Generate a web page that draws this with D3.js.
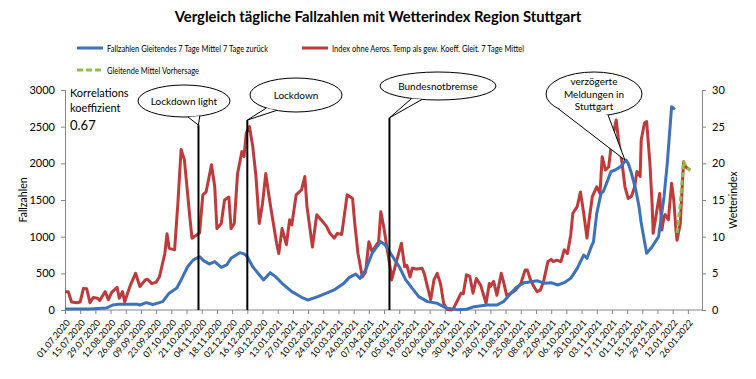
<!DOCTYPE html>
<html>
<head>
<meta charset="utf-8">
<script src="https://cdn.jsdelivr.net/npm/d3@7"></script>
<style>
  body { margin: 0; background: #fff; }
  svg text { font-family: Lato, "Open Sans", sans-serif; fill: #000; }
</style>
</head>
<body>
<div id="chart"></div>
<script>
// ### data ###
var tickLabels = ["01.07.2020","15.07.2020","29.07.2020","12.08.2020","26.08.2020","09.09.2020","23.09.2020","07.10.2020","21.10.2020","04.11.2020","18.11.2020","02.12.2020","16.12.2020","30.12.2020",
  "13.01.2021","27.01.2021","10.02.2021","24.02.2021","10.03.2021","24.03.2021","07.04.2021","21.04.2021","05.05.2021","19.05.2021","02.06.2021","16.06.2021","30.06.2021","14.07.2021","28.07.2021","11.08.2021","25.08.2021","08.09.2021","22.09.2021","06.10.2021","20.10.2021","03.11.2021","17.11.2021","01.12.2021","15.12.2021","29.12.2021",
  "12.01.2022","26.01.2022"];

var caseDates = ["2020-07-01","2020-07-24","2020-08-08","2020-08-14","2020-08-20","2020-09-05","2020-09-08","2020-09-14","2020-09-20","2020-09-26","2020-09-29","2020-10-05","2020-10-12","2020-10-16","2020-10-22","2020-10-27","2020-11-02","2020-11-06","2020-11-11","2020-11-16","2020-11-22","2020-11-27","2020-12-01","2020-12-09","2020-12-13","2020-12-16","2020-12-21","2020-12-31",
  "2021-01-06","2021-01-11","2021-01-17","2021-01-26","2021-02-04","2021-02-10","2021-02-19","2021-02-28","2021-03-06","2021-03-15","2021-03-20","2021-03-26","2021-03-30","2021-04-04","2021-04-10","2021-04-14","2021-04-18","2021-04-22","2021-04-28","2021-05-05","2021-05-11","2021-05-17","2021-05-23","2021-05-31","2021-06-09","2021-06-18","2021-06-27","2021-07-06","2021-07-13","2021-07-25","2021-08-03","2021-08-09","2021-08-16","2021-08-21","2021-08-28","2021-09-04","2021-09-09","2021-09-16","2021-09-22","2021-09-28","2021-10-04","2021-10-10","2021-10-16","2021-10-22","2021-10-25","2021-10-29","2021-10-31","2021-11-03","2021-11-07","2021-11-09","2021-11-12","2021-11-16","2021-11-20","2021-11-25","2021-11-30","2021-12-02","2021-12-05","2021-12-09","2021-12-12","2021-12-14","2021-12-19","2021-12-23","2021-12-25","2021-12-30",
  "2022-01-04","2022-01-07","2022-01-11","2022-01-14"];
var caseValues = [15,15,27,68,80,80,68,100,75,100,114,230,300,410,590,680,727,670,627,661,582,614,705,782,766,727,590,410,
  509,455,364,250,173,136,182,236,273,364,445,490,432,545,773,855,932,886,750,590,410,295,182,114,91,23,5,10,45,68,68,114,227,309,373,386,400,364,373,341,373,432,568,750,705,864,932,1318,1591,1614,1727,1886,1909,1955,2045,2000,1864,1636,1409,1182,773,841,886,1000,
  1545,2000,2773,2736];

var indexDates = ["2020-07-01","2020-07-04","2020-07-07","2020-07-12","2020-07-15","2020-07-18","2020-07-21","2020-07-24","2020-07-27","2020-07-31","2020-08-02","2020-08-07","2020-08-10","2020-08-13","2020-08-18","2020-08-20","2020-08-23","2020-08-25","2020-08-30","2020-09-04","2020-09-08","2020-09-13","2020-09-15","2020-09-19","2020-09-23","2020-09-26","2020-10-01","2020-10-03","2020-10-05","2020-10-10","2020-10-13","2020-10-16","2020-10-19","2020-10-24","2020-10-26","2020-10-30","2020-11-02","2020-11-05","2020-11-08","2020-11-13","2020-11-16","2020-11-18","2020-11-22","2020-11-25","2020-11-29","2020-12-01","2020-12-04","2020-12-07","2020-12-11","2020-12-13","2020-12-15","2020-12-18","2020-12-21","2020-12-24","2020-12-27","2020-12-30",
  "2021-01-02","2021-01-05","2021-01-08","2021-01-12","2021-01-14","2021-01-17","2021-01-21","2021-01-24","2021-01-26","2021-01-30","2021-02-04","2021-02-07","2021-02-09","2021-02-14","2021-02-18","2021-02-22","2021-02-27","2021-03-02","2021-03-06","2021-03-09","2021-03-13","2021-03-18","2021-03-23","2021-03-25","2021-03-28","2021-04-01","2021-04-04","2021-04-07","2021-04-10","2021-04-14","2021-04-16","2021-04-18","2021-04-21","2021-04-24","2021-04-27","2021-04-28","2021-05-02","2021-05-05","2021-05-07","2021-05-10","2021-05-12","2021-05-15","2021-05-17","2021-05-21","2021-05-26","2021-05-28","2021-05-31","2021-06-03","2021-06-06","2021-06-09","2021-06-12","2021-06-15","2021-06-18","2021-06-22","2021-06-24","2021-06-27","2021-07-01","2021-07-03","2021-07-06","2021-07-09","2021-07-12","2021-07-15","2021-07-19","2021-07-24","2021-07-27","2021-07-28","2021-07-31","2021-08-03","2021-08-07","2021-08-09","2021-08-12","2021-08-16","2021-08-20","2021-08-25","2021-08-29","2021-08-31","2021-09-03","2021-09-06","2021-09-09","2021-09-12","2021-09-15","2021-09-19","2021-09-22","2021-09-24","2021-09-27","2021-10-01","2021-10-04","2021-10-07","2021-10-10","2021-10-12","2021-10-16","2021-10-19","2021-10-22","2021-10-25","2021-10-27","2021-10-30","2021-11-03","2021-11-06","2021-11-08","2021-11-11","2021-11-14","2021-11-17","2021-11-19","2021-11-21","2021-11-23","2021-11-26","2021-11-29","2021-12-02","2021-12-05","2021-12-08","2021-12-10","2021-12-13","2021-12-14","2021-12-17","2021-12-19","2021-12-22","2021-12-24","2021-12-25","2021-12-27","2021-12-31",
  "2022-01-02","2022-01-04","2022-01-05","2022-01-08","2022-01-11","2022-01-13","2022-01-15","2022-01-16","2022-01-19","2022-01-22","2022-01-24","2022-01-28"];
var indexValues = [2.5,2.5,1.1,1.0,1.1,2.95,2.9,1.0,1.7,1.6,1.3,2.5,1.4,2.4,3.1,1.6,2.5,1.1,3.3,5.0,3.2,4.1,4.2,3.6,3.8,4.5,7.7,10.4,8.4,8.2,14.5,21.9,20.5,12.7,9.8,10.2,10.5,15.7,16.1,19.8,16.8,11.1,11.8,15.0,15.4,11.1,11.8,18.6,21.6,20.9,24.1,25.0,22.3,18.2,11.8,14.5,
  18.6,15.5,12.7,9.1,7.7,11.1,8.9,12.3,11.6,15.7,16.4,18.2,14.1,8.6,13.0,12.3,11.4,10.5,9.8,10.45,10.3,15.7,15.2,11.8,7.7,4.5,5.2,9.3,7.95,8.9,9.3,13.4,11.1,8.2,5.45,4.1,6.4,8.0,9.1,5.9,6.1,4.5,5.7,5.6,5.7,5.0,3.2,1.4,4.1,5.0,3.6,0.9,0.1,0,0.2,1.1,2.3,2.2,4.8,4.6,2.3,4.3,3.4,0.9,3.6,3.2,3.9,2.0,5.0,3.9,2.0,2.3,2.7,3.6,5.45,5.45,4.1,3.2,2.5,2.7,3.9,6.6,6.9,6.6,6.8,6.6,8.2,7.7,10.2,13.2,14.1,16.1,13.2,9.8,12.3,15.5,16.8,15.9,20.9,19.1,19.5,23.2,24.5,25.9,23.2,20.45,16.8,15.2,15.5,16.8,18.9,18.2,23.2,25.5,25.7,20.0,14.5,10.45,12.3,15.9,
  10.9,12.7,13.0,12.3,17.3,15.0,10.9,9.5,11.8,20.2,19.5,19.1];

var forecastDates = ["2022-01-16","2022-01-19","2022-01-22","2022-01-24","2022-01-28"];
var forecastValues = [10.5,14.5,20.3,19.6,19.0];

// events: date of the line and the Fallzahlen value where it stops
var eventNames = ["Lockdown light","Lockdown","Bundesnotbremse"];
var eventDates = ["2020-11-01","2020-12-16","2021-04-26"];
var eventTops = [2520,2590,2620];

var leftTicks = [0,500,1000,1500,2000,2500,3000];
var rightTicks = [0,5,10,15,20,25,30];

// ### drawing ###
var width = 756, height = 379;
var margin = {left: 65, right: 54, top: 90, bottom: 69};
var parse = d3.timeParse("%Y-%m-%d");
var parseTick = d3.timeParse("%d.%m.%Y");

var svg = d3.select("#chart").append("svg")
  .attr("width", width).attr("height", height);
svg.append("rect").attr("width", width).attr("height", height).attr("fill", "#fff");

var x = d3.scaleTime()
  .domain([parse("2020-07-01"), parse("2022-02-08")])
  .range([margin.left, width - margin.right]);
var yL = d3.scaleLinear().domain([0, 3000]).range([height - margin.bottom, margin.top]);
var yR = d3.scaleLinear().domain([0, 30]).range([height - margin.bottom, margin.top]);

// title
svg.append("text")
  .attr("x", 378).attr("y", 22)
  .attr("text-anchor", "middle")
  .style("font-weight", "bold").style("font-size", "14.8px")
  .text("Vergleich tägliche Fallzahlen mit Wetterindex Region Stuttgart");

// legend
var blue = "#3d72bb", red = "#bf3a3a", green = "#92bd4a";
function legendItem(x0, y0, color, dash, label, len) {
  svg.append("line").attr("x1", x0).attr("x2", x0 + 26).attr("y1", y0).attr("y2", y0)
    .attr("stroke", color).attr("stroke-width", 3).attr("stroke-dasharray", dash);
  svg.append("text").attr("x", x0 + 30).attr("y", y0 + 3.5)
    .style("font-size", "10px")
    .attr("textLength", len).attr("lengthAdjust", "spacingAndGlyphs")
    .text(label);
}
legendItem(77, 48, blue, null, "Fallzahlen Gleitendes 7 Tage Mittel 7 Tage zurück", 161);
legendItem(302, 48, red, null, "Index ohne Aeros. Temp als gew. Koeff. Gleit. 7 Tage Mittel", 192);
legendItem(77, 70, green, "6,3", "Gleitende Mittel Vorhersage", 92);

// ### X axis ###
var xAxis = d3.axisBottom(x)
  .tickValues(tickLabels.map(function(t) { return parseTick(t); }))
  .tickFormat(d3.timeFormat("%d.%m.%Y"))
  .tickSize(4);
var gx = svg.append("g")
  .attr("class", "x axis")
  .attr("transform", "translate(0," + (height - margin.bottom) + ")")
  .call(xAxis);
gx.select(".domain").attr("d", "M" + margin.left + ",0H" + (width - margin.right));
gx.selectAll("text")
  .style("font-size", "9px")
  .style("text-anchor", "end")
  .attr("dx", 0).attr("dy", 0).attr("y", 0)
  .attr("transform", "translate(5,13) rotate(-50)");

// ### Y axes ###
var gl = svg.append("g")
  .attr("class", "y axis")
  .attr("transform", "translate(" + margin.left + ",0)")
  .call(d3.axisLeft(yL).tickValues(leftTicks).tickFormat(d3.format("d")).tickSize(4).tickPadding(6));
gl.selectAll("text").style("font-size", "11px");

var gr = svg.append("g")
  .attr("class", "y axis")
  .attr("transform", "translate(" + (width - margin.right) + ",0)")
  .call(d3.axisRight(yR).tickValues(rightTicks).tickSize(4).tickPadding(6));
gr.selectAll("text").style("font-size", "11px");

svg.selectAll(".axis path, .axis line").attr("stroke", "#868686");
svg.selectAll(".axis text").attr("fill", "#000").style("font-family", "Lato, 'Open Sans', sans-serif");

svg.append("text")
  .attr("transform", "translate(27," + 200 + ") rotate(-90)")
  .attr("text-anchor", "middle").style("font-size", "10.5px")
  .text("Fallzahlen");
svg.append("text")
  .attr("transform", "translate(737," + 200 + ") rotate(-90)")
  .attr("text-anchor", "middle").style("font-size", "10.5px")
  .text("Wetterindex");

// correlation
svg.append("text").attr("x", 70).attr("y", 97).style("font-size", "11px").text("Korrelations");
svg.append("text").attr("x", 70).attr("y", 112).style("font-size", "11px").text("koeffizient");
svg.append("text").attr("x", 70).attr("y", 130).style("font-size", "13px").text("0.67");

// ### lines ###
var lineL = d3.line().x(function(d) { return x(d.date); }).y(function(d) { return yL(d.value); });
var lineR = d3.line().x(function(d) { return x(d.date); }).y(function(d) { return yR(d.value); });

function zip(dates, values) {
  return dates.map(function(d, i) { return {date: parse(d), value: values[i]}; });
}

svg.append("path").datum(zip(indexDates, indexValues))
  .attr("d", lineR).attr("fill", "none").attr("stroke", red)
  .attr("stroke-width", 3).attr("stroke-linejoin", "round");
svg.append("path").datum(zip(caseDates, caseValues))
  .attr("d", lineL).attr("fill", "none").attr("stroke", blue)
  .attr("stroke-width", 3).attr("stroke-linejoin", "round");
svg.append("path").datum(zip(forecastDates, forecastValues))
  .attr("d", lineR).attr("fill", "none").attr("stroke", green)
  .attr("stroke-width", 3).attr("stroke-dasharray", "5,3");

// event lines
eventDates.forEach(function(d, i) {
  svg.append("line")
    .attr("x1", x(parse(d))).attr("x2", x(parse(d)))
    .attr("y1", yL(eventTops[i])).attr("y2", yL(0))
    .attr("stroke", "#000").attr("stroke-width", 2);
});

// ### callouts ###
function callout(cx, cy, rx, ry, a1, a2, tip, lines, fs) {
  var g = svg.append("g");
  g.append("ellipse").attr("cx", cx).attr("cy", cy).attr("rx", rx).attr("ry", ry)
    .attr("fill", "#fff").attr("stroke", "#000").attr("stroke-width", 1);
  var p1 = [cx + rx * Math.cos(a1 * Math.PI / 180), cy + ry * Math.sin(a1 * Math.PI / 180)];
  var p2 = [cx + rx * Math.cos(a2 * Math.PI / 180), cy + ry * Math.sin(a2 * Math.PI / 180)];
  g.append("path")
    .attr("d", "M" + p1 + "L" + tip + "L" + p2)
    .attr("fill", "#fff").attr("stroke", "#000").attr("stroke-width", 1);
  var lh = fs + 2.5;
  lines.forEach(function(t, i) {
    g.append("text").attr("x", cx).attr("y", cy + (i - (lines.length - 1) / 2) * lh + fs * 0.35)
      .attr("text-anchor", "middle").style("font-size", fs + "px").text(t);
  });
}
eventNames.forEach(function(n, i) {
  var tip = [x(parse(eventDates[i])), yL(eventTops[i])];
  if (i === 0) callout(184, 101, 46, 16, 70, 85, tip, [n], 10);
  if (i === 1) callout(296, 95, 46, 17, 115, 130, tip, [n], 10);
  if (i === 2) callout(438, 86, 58, 14, 106, 117, tip, [n], 10);
});
callout(594, 94, 48, 22, 73, 138, [x(parse("2021-11-29")), yL(2045)], ["verzögerte", "Meldungen in", "Stuttgart"], 10);
</script>
</body>
</html>
